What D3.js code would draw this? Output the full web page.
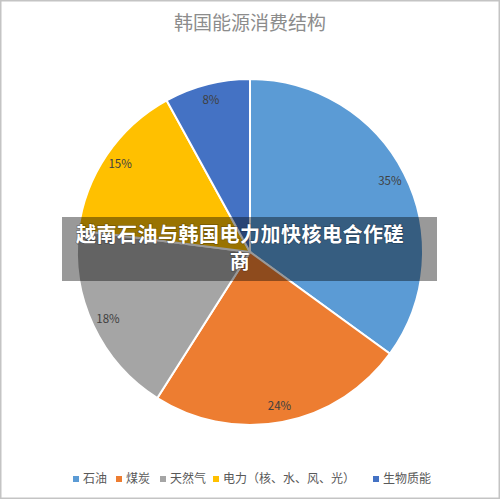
<!DOCTYPE html>
<html>

<head>
    <meta charset='utf-8'>
    <title>韩国能源消费结构</title>
    <script type='text/javascript' src='https://cdn.jsdelivr.net/npm/d3@7'></script>
    <style>
        body { margin: 0; background: #fff; }
        svg { display: block; }
    </style>
</head>

<body>
    <svg width='500' height='500'></svg>
    <script type='text/javascript'>
        // 数据
        const categories = ['石油', '煤炭', '天然气', '电力（核、水、风、光）', '生物质能']
        const values = [35, 24, 18, 15, 8]
        const colors = ['#5B9BD5', '#ED7D31', '#A5A5A5', '#FFC000', '#4472C4']
        const title = '韩国能源消费结构'
        const overlayLines = ['越南石油与韩国电力加快核电合作磋', '商']

        const svg = d3.select('svg')
        const font = "'Noto Sans CJK SC', 'Noto Sans', sans-serif"

        // 外框
        svg.append('rect')
            .attr('x', 0.75).attr('y', 0.75)
            .attr('width', 498.5).attr('height', 497.5)
            .attr('fill', '#fff')
            .attr('stroke', '#c4c4c4')
            .attr('stroke-width', 1.5)

        // 标题
        svg.append('text')
            .attr('x', 250).attr('y', 30)
            .attr('text-anchor', 'middle')
            .attr('font-family', font)
            .attr('font-size', 19)
            .attr('fill', '#8c8c8c')
            .text(title)

        // 饼图
        const cx = 250, cy = 252, R = 173
        const pie = d3.pie().sort(null).value(d => d)
        const arcs = pie(values)
        const arcGen = d3.arc().innerRadius(0).outerRadius(R)
        const labelArc = d3.arc().innerRadius(157).outerRadius(157)

        const g = svg.append('g').attr('transform', `translate(${cx},${cy})`)
        g.selectAll('path').data(arcs)
            .enter().append('path')
            .attr('d', arcGen)
            .attr('fill', (d, i) => colors[i])
            .attr('stroke', '#fff')
            .attr('stroke-width', 2)

        g.selectAll('text').data(arcs)
            .enter().append('text')
            .attr('transform', d => `translate(${labelArc.centroid(d)})`)
            .attr('text-anchor', 'middle')
            .attr('dy', '0.35em')
            .attr('font-family', font)
            .attr('font-size', 11.5)
            .attr('fill', '#404040')
            .text(d => d.data + '%')

        // 图例
        const legendX = [73, 116, 160, 213, 373]
        const legend = svg.append('g').selectAll('g').data(categories)
            .enter().append('g')
            .attr('transform', (d, i) => `translate(${legendX[i]},479)`)
        legend.append('rect')
            .attr('x', 0).attr('y', -3)
            .attr('width', 6).attr('height', 6)
            .attr('fill', (d, i) => colors[i])
        legend.append('text')
            .attr('x', 10).attr('dy', '0.35em')
            .attr('font-family', font)
            .attr('font-size', 12)
            .attr('fill', '#595959')
            .text(d => d)

        // 覆盖的标题条
        svg.append('rect')
            .attr('x', 62).attr('y', 217)
            .attr('width', 375).attr('height', 64)
            .attr('fill', '#000')
            .attr('fill-opacity', 0.4)
        svg.append('g').selectAll('text').data(overlayLines)
            .enter().append('text')
            .attr('x', 240)
            .attr('y', (d, i) => 242 + i * 27)
            .attr('text-anchor', 'middle')
            .attr('font-family', font)
            .attr('font-weight', 'bold')
            .attr('font-size', 20)
            .attr('letter-spacing', 0.5)
            .attr('fill', '#fff')
            .style('paint-order', 'stroke')
            .attr('stroke', 'rgba(0,0,0,0.25)')
            .attr('stroke-width', 1.5)
            .text(d => d)
    </script>
</body>

</html>
